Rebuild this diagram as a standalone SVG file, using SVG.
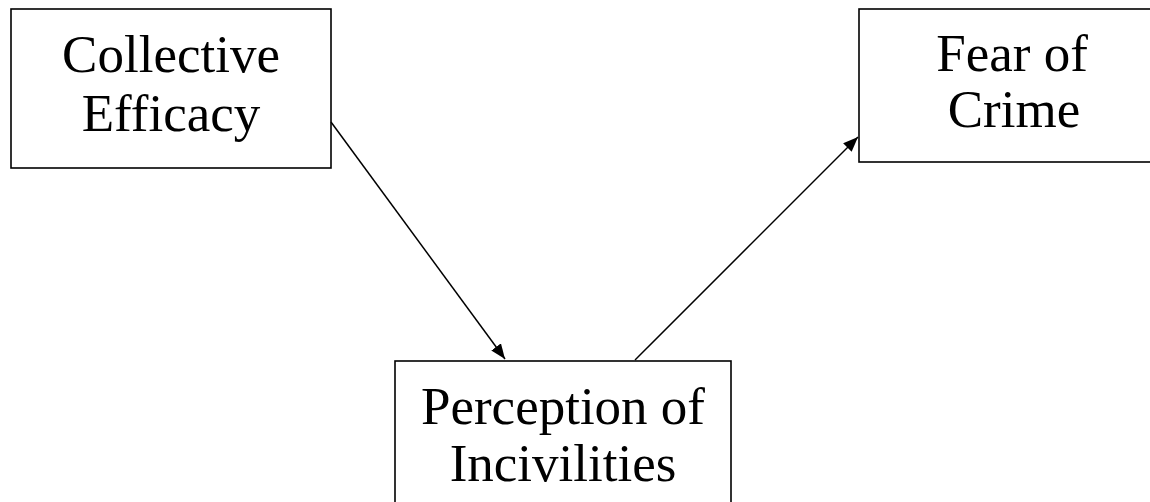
<svg xmlns="http://www.w3.org/2000/svg" width="1150" height="502" viewBox="0 0 1150 502">
<style>
.box{fill:#fff;stroke:#000;stroke-width:1.6}
.t{font-family:"Liberation Serif","Times New Roman",serif;font-size:53px;fill:#000;text-anchor:middle}
.c{stroke:#000;stroke-width:1.5;fill:none}
</style>
<defs>
<marker id="ah" viewBox="0 0 15 12" refX="15" refY="6" markerWidth="15" markerHeight="12" markerUnits="userSpaceOnUse" orient="auto">
<path d="M0,0 L15,6 L0,12 z" fill="#000"/>
</marker>
</defs>
<rect width="1150" height="502" fill="#fff"/>
<g id="collective-efficacy">
<rect class="box" x="11" y="9" width="320" height="159"/>
<text class="t" x="171" y="72">Collective</text>
<text class="t" x="171" y="131">Efficacy</text>
</g>
<g id="fear-of-crime">
<rect class="box" x="859" y="9" width="300" height="153"/>
<text class="t" x="1012" y="71">Fear of</text>
<text class="t" x="1014" y="127">Crime</text>
</g>
<g id="perception-of-incivilities">
<rect class="box" x="395" y="361" width="336" height="150"/>
<text class="t" x="563" y="424">Perception of</text>
<text class="t" x="563" y="481">Incivilities</text>
</g>
<g id="connectors">
<line class="c" x1="331" y1="122" x2="505" y2="359" marker-end="url(#ah)"/>
<line class="c" x1="635" y1="360" x2="858" y2="137" marker-end="url(#ah)"/>
</g>
</svg>
